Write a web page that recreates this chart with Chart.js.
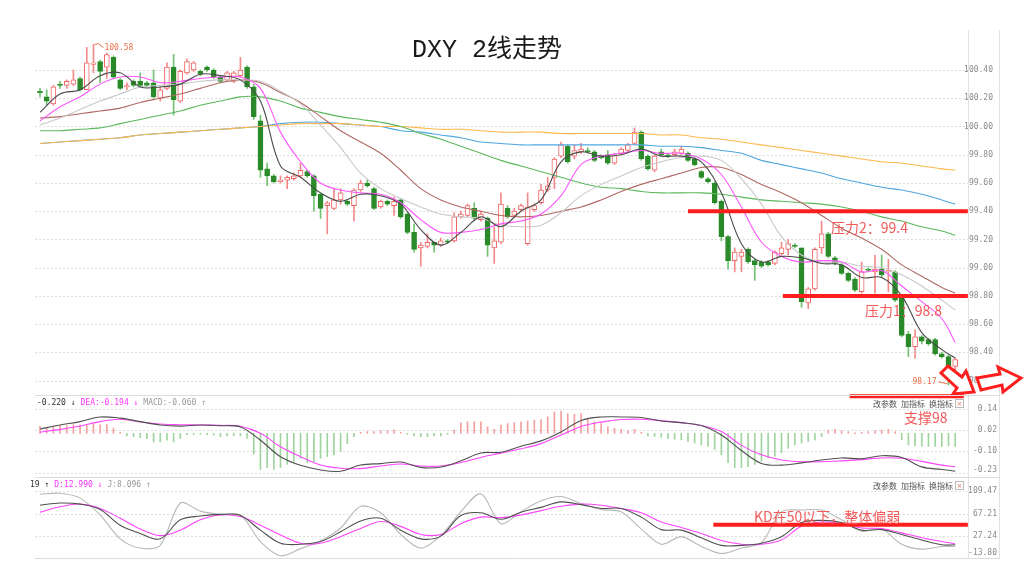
<!DOCTYPE html>
<html><head><meta charset="utf-8">
<script src="https://cdn.jsdelivr.net/npm/chart.js@4.4.1/dist/chart.umd.min.js"></script>
<style>
html,body{margin:0;padding:0;background:#fff;width:1024px;height:580px;overflow:hidden;}
canvas{position:absolute;left:0;}
#c1{top:0}#c2{top:395px}#c3{top:477px}
</style></head><body>
<canvas id="c1" width="1024" height="400"></canvas>
<canvas id="c2" width="1024" height="82"></canvas>
<canvas id="c3" width="1024" height="103"></canvas>
<script>
// ---------------- DATA ----------------
const categories = Array.from({length:138},(_,i)=>i);
const open  = [100.25,100.21,100.16,100.30,100.29,100.30,100.34,100.26,100.44,100.46,100.42,100.49,100.33,100.28,100.32,100.32,100.31,100.31,100.20,100.27,100.42,100.18,100.38,100.40,100.39,100.42,100.40,100.35,100.33,100.32,100.36,100.42,100.28,100.04,99.70,99.65,99.61,99.62,99.63,99.65,99.68,99.65,99.52,99.44,99.42,99.48,99.47,99.44,99.55,99.60,99.56,99.43,99.47,99.44,99.48,99.38,99.25,99.14,99.15,99.18,99.16,99.19,99.19,99.36,99.37,99.42,99.34,99.35,99.14,99.18,99.42,99.37,99.41,99.17,99.41,99.46,99.55,99.64,99.79,99.86,99.79,99.82,99.83,99.82,99.79,99.80,99.74,99.81,99.83,99.88,99.96,99.79,99.69,99.82,99.80,99.80,99.81,99.81,99.77,99.68,99.63,99.60,99.47,99.22,99.05,99.08,99.13,99.05,99.04,99.04,99.03,99.10,99.13,99.16,99.14,98.75,98.85,99.14,99.24,99.07,99.02,98.96,98.92,98.83,98.99,98.97,98.99,98.97,98.97,98.79,98.53,98.44,98.51,98.49,98.49,98.39,98.37,98.30];
const high  = [100.27,100.26,100.29,100.32,100.33,100.40,100.35,100.56,100.58,100.47,100.52,100.50,100.34,100.31,100.33,100.38,100.32,100.40,100.28,100.45,100.51,100.40,100.48,100.46,100.40,100.43,100.41,100.36,100.39,100.39,100.49,100.43,100.30,100.08,99.74,99.66,99.65,99.65,99.67,99.74,99.69,99.66,99.53,99.47,99.56,99.56,99.48,99.56,99.62,99.62,99.57,99.48,99.48,99.50,99.49,99.39,99.31,99.18,99.24,99.18,99.21,99.20,99.39,99.40,99.45,99.46,99.40,99.36,99.29,99.53,99.44,99.42,99.45,99.53,99.45,99.59,99.64,99.78,99.89,99.87,99.87,99.88,99.85,99.83,99.80,99.83,99.81,99.85,99.88,99.99,99.97,99.80,99.80,99.84,99.81,99.84,99.86,99.82,99.78,99.69,99.64,99.61,99.48,99.23,99.14,99.13,99.14,99.06,99.05,99.05,99.12,99.18,99.20,99.17,99.14,98.86,99.14,99.33,99.25,99.08,99.03,98.97,98.93,99.04,99.00,99.09,99.09,99.06,98.98,98.80,98.55,98.56,98.52,98.50,98.50,98.40,98.38,98.36];
const low   = [100.21,100.15,100.15,100.27,100.27,100.29,100.25,100.26,100.38,100.31,100.34,100.34,100.26,100.26,100.28,100.28,100.28,100.20,100.18,100.26,100.08,100.17,100.37,100.39,100.36,100.39,100.34,100.31,100.32,100.31,100.35,100.27,100.05,99.64,99.58,99.60,99.60,99.56,99.62,99.64,99.64,99.40,99.35,99.24,99.41,99.45,99.44,99.33,99.54,99.57,99.41,99.42,99.44,99.37,99.35,99.24,99.11,99.01,99.14,99.11,99.15,99.17,99.18,99.35,99.36,99.34,99.33,99.08,99.03,99.17,99.35,99.36,99.40,99.16,99.40,99.45,99.54,99.56,99.78,99.74,99.77,99.81,99.81,99.75,99.77,99.73,99.73,99.80,99.82,99.87,99.76,99.69,99.68,99.79,99.78,99.79,99.80,99.75,99.72,99.63,99.60,99.45,99.19,98.99,98.97,98.97,99.03,98.91,99.00,99.01,99.02,99.09,99.09,99.14,98.72,98.71,98.84,99.10,99.07,99.02,98.95,98.90,98.83,98.82,98.97,98.82,98.93,98.83,98.76,98.51,98.37,98.36,98.46,98.45,98.38,98.36,98.17,98.23];
const close = [100.24,100.18,100.28,100.29,100.32,100.33,100.26,100.45,100.45,100.39,100.51,100.35,100.27,100.29,100.29,100.29,100.29,100.21,100.26,100.42,100.19,100.39,100.46,100.45,100.37,100.40,100.35,100.32,100.38,100.38,100.40,100.28,100.07,99.69,99.65,99.61,99.62,99.64,99.65,99.69,99.65,99.51,99.42,99.46,99.48,99.53,99.45,99.55,99.60,99.58,99.42,99.47,99.45,99.47,99.36,99.25,99.13,99.16,99.18,99.16,99.19,99.18,99.36,99.38,99.44,99.35,99.38,99.16,99.19,99.45,99.36,99.40,99.44,99.43,99.44,99.55,99.58,99.77,99.87,99.75,99.83,99.84,99.82,99.76,99.78,99.74,99.80,99.84,99.87,99.96,99.77,99.70,99.79,99.80,99.79,99.82,99.84,99.76,99.73,99.64,99.61,99.46,99.22,99.05,99.11,99.11,99.04,99.02,99.01,99.02,99.11,99.14,99.17,99.15,98.76,98.85,99.13,99.24,99.08,99.03,98.96,98.91,98.84,98.97,98.98,98.99,98.95,98.98,98.77,98.52,98.44,98.51,98.48,98.46,98.39,98.37,98.24,98.35];

// sample positions (candle index) at which the indicator lines were read
const lineIdx = [0,3,6,9,12,15,18,21,24,27,30,33,36,39,42,45,48,51,54,57,60,63,66,69,72,75,78,81,84,87,90,93,96,99,102,105,108,111,114,117,120,123,126,129,132,135,137];
const ma5   = [100.10,100.23,100.26,100.36,100.38,100.28,100.28,100.30,100.37,100.36,100.33,100.18,99.72,99.64,99.53,99.47,99.52,99.51,99.45,99.27,99.16,99.25,99.36,99.29,99.40,99.48,99.75,99.82,99.79,99.80,99.84,99.79,99.79,99.75,99.53,99.17,99.04,99.08,99.07,99.03,99.02,98.93,98.93,98.80,98.54,98.42,98.36];
const ma10  = [100.04,100.14,100.21,100.30,100.35,100.35,100.31,100.32,100.34,100.35,100.35,100.27,99.96,99.75,99.60,99.55,99.53,99.52,99.46,99.34,99.25,99.25,99.27,99.31,99.33,99.38,99.51,99.73,99.79,99.81,99.83,99.81,99.81,99.77,99.66,99.43,99.18,99.08,99.04,99.05,99.04,98.97,98.98,98.87,98.76,98.64,98.47];
const ma20  = [100.01,100.06,100.12,100.18,100.23,100.28,100.29,100.30,100.32,100.33,100.33,100.32,100.25,100.16,100.01,99.85,99.67,99.56,99.49,99.43,99.38,99.36,99.35,99.30,99.29,99.30,99.39,99.51,99.59,99.65,99.71,99.75,99.78,99.79,99.76,99.63,99.45,99.22,99.09,99.04,99.04,99.01,99.00,98.95,98.87,98.77,98.70];
const ma30  = [100.06,100.07,100.09,100.11,100.13,100.17,100.20,100.23,100.27,100.31,100.33,100.31,100.24,100.17,100.07,99.97,99.89,99.81,99.69,99.56,99.48,99.43,99.40,99.37,99.36,99.37,99.40,99.43,99.48,99.54,99.59,99.63,99.67,99.71,99.71,99.66,99.59,99.53,99.46,99.37,99.28,99.21,99.13,99.02,98.94,98.86,98.82];
const ma60  = [99.97,99.97,99.98,99.99,100.02,100.05,100.08,100.11,100.15,100.18,100.21,100.21,100.18,100.13,100.10,100.07,100.05,100.03,100.00,99.95,99.91,99.86,99.81,99.76,99.72,99.68,99.64,99.60,99.57,99.56,99.54,99.53,99.53,99.53,99.52,99.50,99.48,99.47,99.46,99.45,99.43,99.40,99.36,99.33,99.29,99.26,99.23];
const ma120 = [99.88,99.89,99.90,99.91,99.92,99.94,99.95,99.96,99.97,99.98,99.99,100.00,100.02,100.03,100.03,100.02,100.01,100.00,99.97,99.96,99.94,99.92,99.89,99.88,99.87,99.87,99.87,99.87,99.87,99.87,99.87,99.86,99.86,99.85,99.83,99.81,99.76,99.73,99.70,99.67,99.63,99.60,99.57,99.55,99.52,99.48,99.45];
const ma250 = [99.88,99.89,99.90,99.91,99.92,99.94,99.95,99.96,99.97,99.98,99.99,100.00,100.01,100.02,100.02,100.02,100.01,100.00,100.00,99.99,99.98,99.98,99.97,99.96,99.96,99.96,99.95,99.95,99.95,99.95,99.95,99.94,99.94,99.92,99.91,99.89,99.87,99.85,99.83,99.81,99.79,99.77,99.75,99.74,99.72,99.70,99.69];

const macdHist = [0.04,0.035,0.04,0.045,0.045,0.05,0.05,0.05,0.055,0.05,0.05,0.03,
 0.005,-0.015,-0.02,-0.025,-0.03,-0.05,-0.05,-0.04,-0.05,-0.03,-0.01,-0.005,-0.005,-0.01,-0.01,-0.02,-0.015,-0.015,-0.015,-0.03,
 -0.12,-0.21,-0.20,-0.21,-0.20,-0.18,-0.165,-0.145,-0.17,-0.165,-0.145,-0.135,-0.125,-0.105,-0.06,-0.02,0.005,0.01,0.01,0.015,0.015,0.02,
 0.005,-0.005,-0.015,-0.02,-0.02,-0.015,-0.015,-0.005,
 0.019,0.061,0.067,0.067,0.067,0.038,0.023,0.048,0.057,0.061,0.067,0.072,0.076,0.080,0.095,0.124,0.129,0.114,0.110,0.114,0.086,0.067,0.057,0.038,0.029,0.023,0.015,0.023,0.004,
 -0.015,-0.019,-0.023,-0.029,-0.034,-0.038,-0.048,-0.057,-0.067,-0.076,-0.095,-0.124,-0.171,-0.200,-0.200,-0.194,-0.181,-0.162,-0.143,-0.133,-0.114,-0.086,-0.067,-0.057,-0.048,-0.038,-0.019,
 0.019,0.023,0.015,0.010,0.0,0.004,0.010,0.015,0.019,0.023,0.010,
 -0.038,-0.067,-0.072,-0.076,-0.076,-0.076,-0.076,-0.072,-0.076];
const dif = [0.025,0.048,0.068,0.095,0.088,0.068,0.048,0.042,0.048,0.044,0.037,-0.04,-0.136,-0.186,-0.213,-0.220,-0.184,-0.176,-0.167,-0.198,-0.196,-0.16,-0.114,-0.11,-0.075,-0.044,0.008,0.075,0.095,0.095,0.092,0.072,0.062,0.045,-0.01,-0.10,-0.175,-0.185,-0.172,-0.155,-0.143,-0.148,-0.13,-0.14,-0.195,-0.21,-0.22];
const dea = [0.006,0.023,0.043,0.068,0.082,0.066,0.054,0.050,0.048,0.046,0.041,0.0,-0.078,-0.136,-0.184,-0.203,-0.205,-0.19,-0.178,-0.19,-0.19,-0.17,-0.14,-0.115,-0.09,-0.06,-0.01,0.04,0.065,0.08,0.082,0.074,0.062,0.045,0.01,-0.07,-0.125,-0.155,-0.165,-0.165,-0.16,-0.153,-0.143,-0.145,-0.163,-0.185,-0.194];
const kLine = [84,88,86,76,47,32,22,57,64,67,65,38,14,12,17,35,55,60,38,22,27,65,70,58,71,80,90,85,78,78,62,39,38,24,10,10,14,26,52,56,52,38,39,30,20,11,11];
const dLine = [71,81,86,78,60,40,28,38,57,66,63,47,29,14,14,26,41,54,45,30,30,50,62,61,66,74,82,86,84,78,70,53,43,32,19,12,12,20,45,53,50,42,41,33,24,17,13];
const jLine = [104,106,97,66,22,5,10,88,73,67,66,17,-9,4,18,42,82,70,30,5,28,72,105,50,72,92,100,87,76,72,40,12,26,8,-5,5,15,72,75,75,57,36,40,12,3,8,8];

const priceTicks = [98.2,98.4,98.6,98.8,99.0,99.2,99.4,99.6,99.8,100.0,100.2,100.4];
const macdTicks = [0.14,0.02,-0.10,-0.23];
const kdTicks = [109.47,67.21,27.24,-13.80];

const titleText = 'DXY 2线走势';
const levelLines = [ {value:99.4, from:97.0, to:138.9}, {value:98.8, from:111.2, to:138.9}, {value:98.09, from:121.2, to:138.3} ];
const kdLevel = {value:48, from:100.8, to:138.9};

// ---------------- HELPERS ----------------
const RED='#f06464', GREEN='#2a8a2a';
const pts = vals => vals.map((v,k)=>({x:lineIdx[k], y:v}));
const isUp = i => close[i] > open[i] || (close[i]===open[i] && i===8);
const xScale = () => ({type:'linear', min:-0.75, max:138.92, offset:false, bounds:'data', display:false, grid:{offset:false}});
function yAxis(min,max,ticks){
  return {position:'right', min, max, grid:{display:false}, border:{display:false},
    afterFit(s){ s.width = 56; },
    afterBuildTicks(s){ s.ticks = ticks.map(v=>({value:v})); },
    ticks:{display:false}};
}
// dotted grid + right-aligned tick labels drawn from the y scale
function axisPlugin(labelRight){
  return {id:'axisPlugin', beforeDatasetsDraw(chart){
    const {ctx, chartArea:a, scales:{y}} = chart;
    ctx.save(); ctx.strokeStyle='#dedede'; ctx.lineWidth=1; ctx.setLineDash([2,2]);
    y.ticks.forEach(t=>{ const py=Math.round(y.getPixelForValue(t.value))+0.5;
      ctx.beginPath(); ctx.moveTo(a.left,py); ctx.lineTo(a.right,py); ctx.stroke(); });
    ctx.setLineDash([]);
    ctx.fillStyle='#8a8a8a'; ctx.font='8px "DejaVu Sans Mono"'; ctx.textAlign='right'; ctx.textBaseline='middle';
    y.ticks.forEach(t=>{ const py=Math.min(y.getPixelForValue(t.value), a.bottom-6);
      ctx.fillText(Number(t.value).toFixed(2), labelRight, py); });
    ctx.restore();
  }};
}
function vLines(ctx, y0, y1){
  ctx.save(); ctx.strokeStyle='#e2e2e2'; ctx.lineWidth=1;
  [968.5, 999.5].forEach(px=>{ ctx.beginPath(); ctx.moveTo(px,y0); ctx.lineTo(px,y1); ctx.stroke(); });
  ctx.restore();
}
function buttons(ctx, y){
  ctx.save(); ctx.font='8px "Noto Sans CJK SC"'; ctx.fillStyle='#555'; ctx.textBaseline='middle'; ctx.textAlign='left';
  ctx.fillText('改参数', 873, y); ctx.fillText('加指标', 901, y); ctx.fillText('换指标', 929, y);
  ctx.strokeStyle='#bbb'; ctx.strokeRect(955.5, y-4.5, 8, 8);
  ctx.fillStyle='#e07060'; ctx.font='7px "DejaVu Sans"'; ctx.textAlign='center'; ctx.fillText('×', 959.5, y);
  ctx.restore();
}
function header(ctx, x, y, parts){
  ctx.save(); ctx.font='8px "DejaVu Sans Mono"'; ctx.textBaseline='middle'; ctx.textAlign='left';
  parts.forEach(p=>{ ctx.fillStyle=p[1]; ctx.fillText(p[0], x, y); x += ctx.measureText(p[0]).width + 5; });
  ctx.restore();
}

// ---------------- PRICE CHART ----------------
const overlayPrice = {id:'overlayPrice', afterDraw(chart){
  const {ctx, scales:{x,y}} = chart;
  vLines(ctx, 30, 400);
  ctx.save();
  ctx.fillStyle='#1a1a1a'; ctx.font='25px "Liberation Mono","Noto Sans CJK SC"';
  ctx.textAlign='left'; ctx.textBaseline='alphabetic'; ctx.fillText(titleText, 412, 57);
  // extreme markers
  ctx.strokeStyle='#e8704a'; ctx.lineWidth=1; ctx.fillStyle='#e8704a'; ctx.font='8px "DejaVu Sans Mono"'; ctx.textBaseline='middle';
  const hx = x.getPixelForValue(8), hy = y.getPixelForValue(high[8]);
  ctx.beginPath(); ctx.moveTo(hx+1,hy); ctx.lineTo(hx+5,hy-1); ctx.lineTo(hx+10,hy+3); ctx.stroke();
  ctx.fillText('100.58', hx+11, hy+3);
  const lx = x.getPixelForValue(136), ly = y.getPixelForValue(low[136]);
  ctx.textAlign='right'; ctx.fillText('98.17', lx-12, ly-3);
  ctx.beginPath(); ctx.moveTo(lx-10,ly-3); ctx.lineTo(lx-1,ly-1); ctx.stroke();
  // resistance / support lines
  ctx.strokeStyle='#ff1e1e'; ctx.lineWidth=4;
  levelLines.forEach(l=>{ const py=y.getPixelForValue(l.value);
    ctx.beginPath(); ctx.moveTo(x.getPixelForValue(l.from),py); ctx.lineTo(x.getPixelForValue(l.to),py); ctx.stroke(); });
  ctx.fillStyle='#f25a5a'; ctx.font='14px "Noto Sans CJK SC"'; ctx.textAlign='left'; ctx.textBaseline='middle';
  ctx.fillText('压力2：99.4', 831, y.getPixelForValue(99.4)+16);
  ctx.fillText('压力1：98.8', 865, y.getPixelForValue(98.8)+15);
  // arrow
  ctx.lineWidth=3; ctx.strokeStyle='#ff1e1e'; ctx.fillStyle='#fff'; ctx.lineJoin='miter';
  ctx.beginPath();
  [[941,373],[948,366],[962,377],[966,371],[974,392],[953,394],[957,388]].forEach((p,k)=> k?ctx.lineTo(p[0],p[1]):ctx.moveTo(p[0],p[1]));
  ctx.closePath(); ctx.fill(); ctx.stroke();
  ctx.beginPath();
  [[977,378],[1000,374],[998,367],[1021,378],[1003,392],[1002,385],[981,390]].forEach((p,k)=> k?ctx.lineTo(p[0],p[1]):ctx.moveTo(p[0],p[1]));
  ctx.closePath(); ctx.fill(); ctx.stroke();
  ctx.restore();
}};

// drawn back-to-front: first entry drawn first
const maDefs = [[ma120,'#4ea6e0'],[ma250,'#ffb84d'],[ma60,'#5cb85c'],[ma30,'#b06a64'],[ma20,'#c8c8c8'],[ma10,'#ff55ff'],[ma5,'#4a4a4a']];
const priceDatasets = [
  {type:'bar', data:categories.map(i=>({x:i, y:[low[i],high[i]]})), grouped:false, barThickness:1,
   backgroundColor:categories.map(i=>isUp(i)?'#f28a8a':'#72c272'), order:20},
  {type:'bar', data:categories.map(i=>({x:i, y:[Math.min(open[i],close[i]),Math.max(open[i],close[i])]})), grouped:false,
   barThickness:5, minBarLength:1, borderWidth:1, borderSkipped:false,
   backgroundColor:categories.map(i=>isUp(i)?'#ffffff':GREEN), borderColor:categories.map(i=>isUp(i)?RED:GREEN), order:19},
  ...maDefs.map((m,k)=>({type:'line', data:pts(m[0]), borderColor:m[1], borderWidth:1.1, pointRadius:0, tension:0.35, order:10-k}))
];
new Chart(document.getElementById('c1'), {
  type:'bar', data:{datasets:priceDatasets},
  options:{responsive:false, animation:false, devicePixelRatio:1,
    layout:{padding:{left:35, top:30, bottom:7, right:0}},
    plugins:{legend:{display:false}, tooltip:{enabled:false}},
    scales:{x:xScale(), y:yAxis(98.1125,100.6833,priceTicks)}},
  plugins:[axisPlugin(993), overlayPrice]
});

// ---------------- MACD ----------------
const overlayMacd = {id:'overlayMacd', afterDraw(chart){
  const {ctx} = chart;
  vLines(ctx, 0, 82);
  ctx.save(); ctx.strokeStyle='#dcdcdc'; ctx.beginPath(); ctx.moveTo(35,0.5); ctx.lineTo(1000,0.5); ctx.stroke(); ctx.restore();
  header(ctx, 37, 8, [['-0.220 ↓','#333'],['DEA:-0.194 ↓','#ff33ff'],['MACD:-0.060 ↑','#999']]);
  buttons(ctx, 9);
  ctx.save(); ctx.fillStyle='#f25a5a'; ctx.font='14px "Noto Sans CJK SC"'; ctx.textBaseline='middle'; ctx.fillText('支撑98', 904, 23); ctx.restore();
}};
new Chart(document.getElementById('c2'), {
  type:'bar',
  data:{datasets:[
    {type:'line', data:pts(dif), borderColor:'#505050', borderWidth:1.1, pointRadius:0, tension:0.35, order:1},
    {type:'line', data:pts(dea), borderColor:'#ff44ff', borderWidth:1.1, pointRadius:0, tension:0.35, order:2},
    {type:'bar', data:categories.map(i=>({x:i, y:macdHist[i]})), grouped:false, barThickness:1, minBarLength:1,
     backgroundColor:macdHist.map(v=>v>=0?'#f4a0a0':'#9fd49f'), order:5}
  ]},
  options:{responsive:false, animation:false, devicePixelRatio:1,
    layout:{padding:{left:35, top:3, bottom:1, right:0}},
    plugins:{legend:{display:false}, tooltip:{enabled:false}},
    scales:{x:xScale(), y:yAxis(-0.248,0.2052,macdTicks)}},
  plugins:[axisPlugin(997), overlayMacd]
});

// ---------------- KD ----------------
const overlayKd = {id:'overlayKd', afterDraw(chart){
  const {ctx, scales:{x,y}} = chart;
  vLines(ctx, 0, 82);
  ctx.save(); ctx.strokeStyle='#dcdcdc';
  ctx.beginPath(); ctx.moveTo(35,0.5); ctx.lineTo(1000,0.5); ctx.stroke();
  ctx.beginPath(); ctx.moveTo(35,81.5); ctx.lineTo(1000,81.5); ctx.stroke(); ctx.restore();
  header(ctx, 30, 8, [['19 ↑','#333'],['D:12.990 ↓','#ff33ff'],['J:8.096 ↑','#999']]);
  buttons(ctx, 9);
  ctx.save(); ctx.strokeStyle='#ff1e1e'; ctx.lineWidth=4;
  const py = y.getPixelForValue(kdLevel.value);
  ctx.beginPath(); ctx.moveTo(x.getPixelForValue(kdLevel.from),py); ctx.lineTo(x.getPixelForValue(kdLevel.to),py); ctx.stroke();
  ctx.fillStyle='#f25a5a'; ctx.font='14px "Noto Sans CJK SC"'; ctx.textBaseline='middle';
  ctx.fillText('KD在50以下，整体偏弱', 754, py-8); ctx.restore();
}};
new Chart(document.getElementById('c3'), {
  type:'line',
  data:{datasets:[
    {data:pts(jLine), borderColor:'#b8b8b8', borderWidth:1.1, pointRadius:0, tension:0.3, order:3},
    {data:pts(dLine), borderColor:'#ff44ff', borderWidth:1.1, pointRadius:0, tension:0.35, order:2},
    {data:pts(kLine), borderColor:'#505050', borderWidth:1.1, pointRadius:0, tension:0.35, order:1}
  ]},
  options:{responsive:false, animation:false, devicePixelRatio:1,
    layout:{padding:{left:35, top:3, bottom:21, right:0}},
    plugins:{legend:{display:false}, tooltip:{enabled:false}},
    scales:{x:xScale(), y:yAxis(-15.12,130.37,kdTicks)}},
  plugins:[axisPlugin(997), overlayKd]
});
</script>
</body></html>
